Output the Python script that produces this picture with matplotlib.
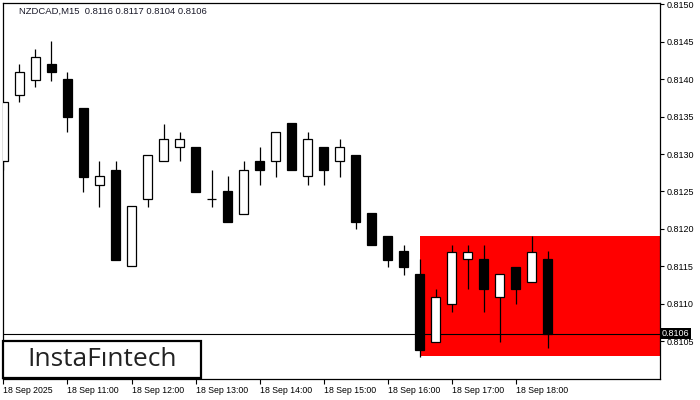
import numpy as np
import matplotlib.pyplot as plt
from matplotlib.patches import Rectangle
import matplotlib.transforms as mtransforms

# NZDCAD M15 candles, 18 Sep 2025 from 10:00
opens = [0.81290, 0.81379, 0.81399, 0.81421, 0.81400, 0.81361, 0.81259, 0.81279,
         0.81150, 0.81240, 0.81290, 0.81310, 0.81310, 0.81240, 0.81250, 0.81220,
         0.81290, 0.81290, 0.81341, 0.81270, 0.81310, 0.81290, 0.81299, 0.81221,
         0.81190, 0.81170, 0.81139, 0.81049, 0.81100, 0.81159, 0.81159, 0.81109,
         0.81149, 0.81129, 0.81160]
highs = [0.81370, 0.81421, 0.81441, 0.81451, 0.81410, 0.81361, 0.81290, 0.81290,
         0.81230, 0.81299, 0.81340, 0.81330, 0.81310, 0.81279, 0.81270, 0.81290,
         0.81310, 0.81330, 0.81341, 0.81330, 0.81310, 0.81320, 0.81299, 0.81221,
         0.81190, 0.81179, 0.81159, 0.81120, 0.81179, 0.81179, 0.81179, 0.81139,
         0.81149, 0.81190, 0.81170]
lows = [0.81279, 0.81369, 0.81389, 0.81398, 0.81329, 0.81249, 0.81229, 0.81158,
        0.81150, 0.81229, 0.81290, 0.81290, 0.81249, 0.81229, 0.81209, 0.81220,
        0.81258, 0.81269, 0.81278, 0.81258, 0.81258, 0.81269, 0.81200, 0.81178,
        0.81149, 0.81138, 0.81028, 0.81049, 0.81089, 0.81119, 0.81089, 0.81049,
        0.81099, 0.81129, 0.81040]
closes = [0.81370, 0.81410, 0.81430, 0.81410, 0.81349, 0.81269, 0.81270, 0.81158,
          0.81230, 0.81299, 0.81320, 0.81320, 0.81249, 0.81240, 0.81209, 0.81279,
          0.81278, 0.81330, 0.81278, 0.81320, 0.81278, 0.81310, 0.81209, 0.81178,
          0.81158, 0.81149, 0.81038, 0.81109, 0.81169, 0.81169, 0.81119, 0.81139,
          0.81119, 0.81169, 0.81060]

time_ticks = [0, 4, 8, 12, 16, 20, 24, 28, 32]
time_labels = ["18 Sep 2025", "18 Sep 11:00", "18 Sep 12:00", "18 Sep 13:00",
               "18 Sep 14:00", "18 Sep 15:00", "18 Sep 16:00", "18 Sep 17:00",
               "18 Sep 18:00"]
price_ticks = [0.8105, 0.8110, 0.8115, 0.8120, 0.8125, 0.8130, 0.8135, 0.8140, 0.8145, 0.8150]

zone_start = 26
zone_low = 0.8103
zone_high = 0.8119
bid = 0.8106
title = "NZDCAD,M15  0.8116 0.8117 0.8104 0.8106"

W, H = 700, 400
fig = plt.figure(figsize=(7, 4), dpi=100)
ax = fig.add_axes([3 / W, 21 / H, 657 / W, 376 / H])

o = np.array(opens)
c = np.array(closes)
x = np.arange(len(o))
up = c >= o

# red zone
ax.add_patch(Rectangle((zone_start, zone_low), 50, zone_high - zone_low,
                       facecolor="#ff0000", edgecolor="none", zorder=1))
ax.axhline(bid, color="black", lw=0.8, zorder=2)

ax.vlines(x, lows, highs, color="black", lw=0.9, zorder=3)
bottoms = np.minimum(o, c)
heights = np.abs(c - o)
ax.bar(x[up], heights[up], bottom=bottoms[up], width=0.6,
       facecolor="white", edgecolor="black", linewidth=0.9, zorder=4)
ax.bar(x[~up], heights[~up], bottom=bottoms[~up], width=0.6,
       facecolor="black", edgecolor="black", linewidth=0.9, zorder=4)

ax.set_xlim(-0.031, 41.03)
ax.set_ylim(0.809992, 0.815019)

ax.yaxis.tick_right()
ax.set_yticks(price_ticks)
ax.set_yticklabels([f"{p:.4f}" for p in price_ticks])
ax.set_xticks(time_ticks)
ax.set_xticklabels(time_labels)
for lab in ax.get_xticklabels():
    lab.set_ha("left")
    lab.set_fontfamily("Liberation Sans")
    lab.set_fontsize(6.3)
for lab in ax.get_yticklabels():
    lab.set_fontfamily("Liberation Sans")
    lab.set_fontsize(6.5)
ax.tick_params(axis="x", length=3.5, width=0.8, pad=1.5, direction="out")
ax.tick_params(axis="y", length=3, width=0.8, pad=2, direction="out")
for s in ax.spines.values():
    s.set_linewidth(0.9)

# current price label
trans = mtransforms.blended_transform_factory(ax.transAxes, ax.transData)
ax.text(1.003, bid, "0.8106", transform=trans, ha="left", va="center",
        fontsize=6.5, family="Liberation Sans", color="white", zorder=10,
        bbox=dict(boxstyle="square,pad=0.15", facecolor="black", edgecolor="none"),
        clip_on=False)

fig.text(19 / W, 1 - 11 / H, title, ha="left", va="center", fontsize=6.8,
         family="Liberation Sans", color="#1a1a2a")

# logo
fig.patches.append(Rectangle((3 / W, (H - 378) / H), 198 / W, 37 / H,
                             transform=fig.transFigure, facecolor="white",
                             edgecolor="black", linewidth=1.6, zorder=20))
fig.text(102 / W, 1 - 360 / H, "InstaF\u0131ntech", ha="center", va="center",
         fontsize=19, family="Open Sans", color="#222222", zorder=21)

plt.savefig("out.png", dpi=100)
